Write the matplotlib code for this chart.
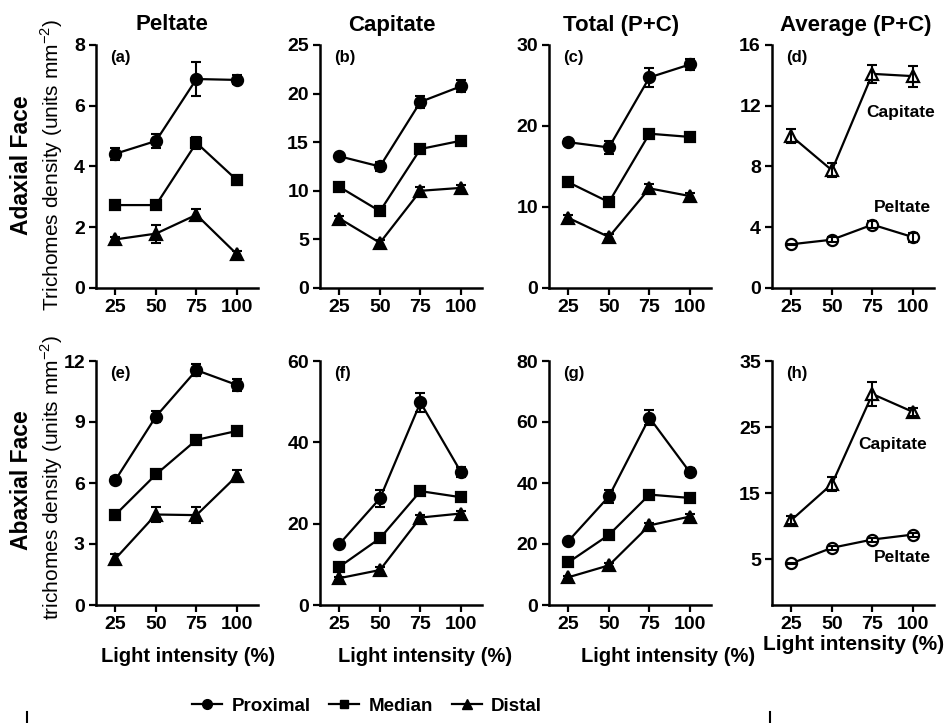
import numpy as np
import matplotlib
matplotlib.use("Agg")
import matplotlib.pyplot as plt
from matplotlib.lines import Line2D

plt.rcParams['font.family'] = ['Liberation Sans', 'DejaVu Sans']
plt.rcParams['mathtext.fontset'] = 'custom'
plt.rcParams['mathtext.rm'] = 'Liberation Sans'
plt.rcParams['mathtext.bf'] = 'Liberation Sans:bold'

# light intensity (%)
light = [25, 50, 75, 100]

# adaxial face - peltate (a)
a_prox = [4.42, 4.84, 6.88, 6.85]
a_prox_err = [0.2, 0.22, 0.56, 0.15]
a_med = [2.73, 2.73, 4.78, 3.55]
a_med_err = [0.05, 0.05, 0.2, 0.15]
a_dist = [1.6, 1.79, 2.41, 1.11]
a_dist_err = [0.08, 0.3, 0.18, 0.12]

# adaxial face - capitate (b)
b_prox = [13.55, 12.5, 19.15, 20.75]
b_prox_err = [0.2, 0.5, 0.6, 0.6]
b_med = [10.4, 7.9, 14.3, 15.15]
b_med_err = [0.15, 0.2, 0.2, 0.2]
b_dist = [7.15, 4.65, 10.0, 10.3]
b_dist_err = [0.3, 0.3, 0.4, 0.3]

# adaxial face - total (c)
c_prox = [18.0, 17.35, 26.0, 27.6]
c_prox_err = [0.4, 0.8, 1.15, 0.7]
c_med = [13.05, 10.6, 19.05, 18.65]
c_med_err = [0.2, 0.2, 0.3, 0.3]
c_dist = [8.65, 6.3, 12.3, 11.35]
c_dist_err = [0.4, 0.4, 0.5, 0.4]

# adaxial face - average (d)
d_cap = [10.0, 7.75, 14.1, 13.95]
d_cap_err = [0.45, 0.45, 0.6, 0.7]
d_pel = [2.88, 3.18, 4.17, 3.35]
d_pel_err = [0.05, 0.15, 0.25, 0.3]

# abaxial face - peltate (e)
e_prox = [6.15, 9.27, 11.55, 10.82]
e_prox_err = [0.15, 0.25, 0.3, 0.3]
e_med = [4.44, 6.42, 8.12, 8.56]
e_med_err = [0.08, 0.12, 0.12, 0.08]
e_dist = [2.28, 4.45, 4.42, 6.35]
e_dist_err = [0.25, 0.35, 0.4, 0.3]

# abaxial face - capitate (f)
f_prox = [15.0, 26.2, 49.8, 32.7]
f_prox_err = [0.5, 2.0, 2.3, 1.2]
f_med = [9.4, 16.4, 28.0, 26.5]
f_med_err = [0.5, 0.5, 0.5, 0.5]
f_dist = [6.6, 8.6, 21.5, 22.5]
f_dist_err = [0.4, 0.8, 0.6, 0.6]

# abaxial face - total (g)
g_prox = [21.0, 35.6, 61.4, 43.5]
g_prox_err = [0.8, 2.2, 2.4, 1.3]
g_med = [14.0, 23.0, 36.2, 35.1]
g_med_err = [0.4, 0.5, 0.5, 0.5]
g_dist = [9.1, 13.0, 26.1, 29.0]
g_dist_err = [0.5, 0.7, 0.8, 0.8]

# abaxial face - average (h)
h_cap = [10.95, 16.4, 30.0, 27.3]
h_cap_err = [0.6, 1.0, 1.8, 0.6]
h_pel = [4.4, 6.75, 8.0, 8.75]
h_pel_err = [0.1, 0.3, 0.3, 0.3]

col_titles = ['Peltate', 'Capitate', 'Total (P+C)', 'Average (P+C)']
panel_tags = ['(a)', '(b)', '(c)', '(d)', '(e)', '(f)', '(g)', '(h)']
yticks_all = [[0, 2, 4, 6, 8], [0, 5, 10, 15, 20, 25], [0, 10, 20, 30], [0, 4, 8, 12, 16],
              [0, 3, 6, 9, 12], [0, 20, 40, 60], [0, 20, 40, 60, 80], [5, 15, 25, 35]]
ylims = [(0, 8), (0, 25), (0, 30), (0, 16), (0, 12), (0, 60), (0, 80), (-1.9, 35)]

W, H = 944, 723
fig = plt.figure(figsize=(W / 100, H / 100), dpi=100)

lefts = [96, 320, 549, 772]
rows = [(45, 288), (361, 605)]
axes = []
for r, (top, bot) in enumerate(rows):
    for c, lx in enumerate(lefts):
        ax = fig.add_axes([lx / W, 1 - bot / H, 162 / W, (bot - top) / H])
        axes.append(ax)

markers = {'prox': ('o', 8), 'med': ('s', 6.5), 'dist': ('^', 8)}


def series(ax, y, err, marker, ms, open_=False):
    fc = 'white' if open_ else 'black'
    ax.plot(light, y, color='black', lw=1.6, marker=marker, ms=ms,
            mfc=fc, mec='black', mew=1.6, zorder=2)
    ax.errorbar(light, y, yerr=err, fmt='none', ecolor='black', elinewidth=1.5,
                capsize=3.8, capthick=1.5, zorder=3)


groups = [
    (a_prox, a_prox_err, a_med, a_med_err, a_dist, a_dist_err),
    (b_prox, b_prox_err, b_med, b_med_err, b_dist, b_dist_err),
    (c_prox, c_prox_err, c_med, c_med_err, c_dist, c_dist_err),
    None,
    (e_prox, e_prox_err, e_med, e_med_err, e_dist, e_dist_err),
    (f_prox, f_prox_err, f_med, f_med_err, f_dist, f_dist_err),
    (g_prox, g_prox_err, g_med, g_med_err, g_dist, g_dist_err),
    None,
]

for i, ax in enumerate(axes):
    grp = groups[i]
    if grp is not None:
        series(ax, grp[0], grp[1], 'o', 8)
        series(ax, grp[2], grp[3], 's', 6.5)
        series(ax, grp[4], grp[5], '^', 8)
    ax.set_xlim(13, 113)
    ax.set_ylim(*ylims[i])
    ax.set_xticks(light)
    ax.set_yticks(yticks_all[i])
    ax.spines['top'].set_visible(False)
    ax.spines['right'].set_visible(False)
    for s in ['left', 'bottom']:
        ax.spines[s].set_linewidth(1.8)
    ax.tick_params(width=1.6, length=5, labelsize=14, pad=3)
    for lab in ax.get_xticklabels() + ax.get_yticklabels():
        lab.set_fontweight('bold')
    ax.text(0.09, 0.95, panel_tags[i], transform=ax.transAxes, fontsize=12,
            fontweight='bold', ha='left', va='center')

# average panels
series(axes[3], d_cap, d_cap_err, '^', 8.5, open_=True)
series(axes[3], d_pel, d_pel_err, 'o', 8, open_=True)
series(axes[7], h_cap, h_cap_err, '^', 8.5, open_=True)
series(axes[7], h_pel, h_pel_err, 'o', 8, open_=True)

fig.text(901 / W, 1 - 113 / H, 'Capitate', fontsize=12.5, fontweight='bold', ha='center', va='center')
fig.text(902 / W, 1 - 207 / H, 'Peltate', fontsize=12.5, fontweight='bold', ha='center', va='center')
fig.text(893 / W, 1 - 445 / H, 'Capitate', fontsize=12.5, fontweight='bold', ha='center', va='center')
fig.text(902 / W, 1 - 558 / H, 'Peltate', fontsize=12.5, fontweight='bold', ha='center', va='center')

# column titles
for x, t in zip([172, 392, 621, 856], col_titles):
    fig.text(x / W, 1 - 25 / H, t, fontsize=16, fontweight='bold', ha='center', va='center')

# row labels
fig.text(22 / W, 1 - 165 / H, 'Adaxial Face', fontsize=16.5, fontweight='bold',
         rotation=90, ha='center', va='center')
fig.text(52 / W, 1 - 165 / H, 'Trichomes density (units mm$^{-2}$)', fontsize=15,
         rotation=90, ha='center', va='center')
fig.text(22 / W, 1 - 480 / H, 'Abaxial Face', fontsize=16.5, fontweight='bold',
         rotation=90, ha='center', va='center')
fig.text(52 / W, 1 - 478 / H, 'trichomes density (units mm$^{-2}$)', fontsize=15,
         rotation=90, ha='center', va='center')

# x labels
for x in [188, 425, 668]:
    fig.text(x / W, 1 - 657 / H, 'Light intensity (%)', fontsize=14.5, fontweight='bold',
             ha='center', va='center')
fig.text(854 / W, 1 - 645 / H, 'Light intensity (%)', fontsize=15, fontweight='bold',
         ha='center', va='center')

# legend
handles = [Line2D([], [], color='black', lw=1.6, marker=m, ms=s) for m, s in
           [('o', 7), ('s', 6), ('^', 7)]]
fig.legend(handles, ['Proximal', 'Median', 'Distal'], loc='center',
           bbox_to_anchor=(367 / W, 1 - 706 / H), ncol=3, frameon=False,
           prop={'weight': 'bold', 'size': 13.5}, handlelength=1.6,
           handletextpad=0.5, columnspacing=1.0)

# small bracket ends at the bottom edge
for x in [27, 770]:
    fig.add_artist(Line2D([x / W, x / W], [0, 11 / H], color='black', lw=1.5,
                          transform=fig.transFigure))

fig.savefig('out.png', dpi=100)
